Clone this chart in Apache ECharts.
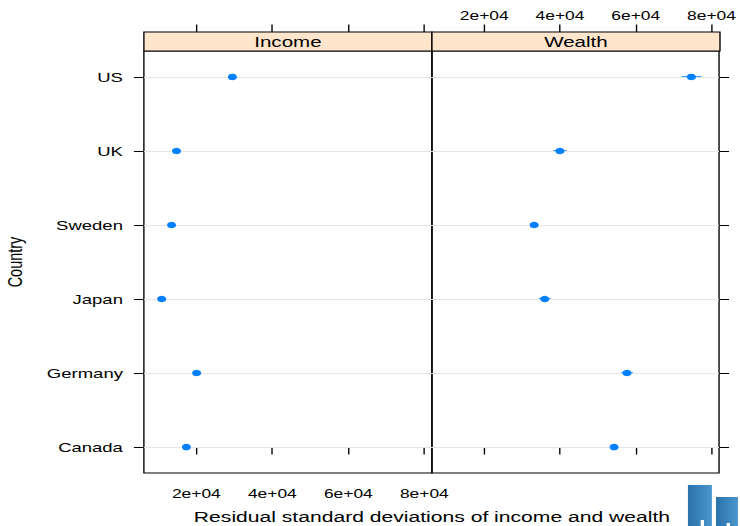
<!DOCTYPE html>
<html>
<head>
<meta charset="utf-8">
<script src="https://cdn.jsdelivr.net/npm/echarts@6/dist/echarts.min.js"></script>
<style>
html,body{margin:0;padding:0;background:#fff;overflow:hidden;width:740px;height:526px;}
#chart{width:540px;height:526px;transform:scaleX(1.37037);transform-origin:0 0;}
</style>
</head>
<body>
<div id="chart"></div>
<script>
// ---- data (bottom to top, as in the lattice dot plot) ----
const countries = ['Canada', 'Germany', 'Japan', 'Sweden', 'UK', 'US'];
const incomeSd  = [17400, 20100, 10900, 13500, 14800, 29500];
const incomeSe  = [500, 500, 400, 500, 500, 700];
const wealthSd  = [54300, 57700, 36000, 33200, 40000, 74700];
const wealthSe  = [900, 1600, 1600, 900, 1800, 2600];
const xTicks    = [20000, 40000, 60000, 80000];
const panels    = ['Income', 'Wealth'];
const xTitle    = 'Residual standard deviations of income and wealth';
const yTitle    = 'Country';

const FONT = '"Liberation Sans", Arial, Helvetica, sans-serif';
const X_MIN = 6200, X_MAX = 82000;
const Y_MIN = -0.351, Y_MAX = 5.351;
const G0 = {left: 105, top: 51, width: 210.2, height: 422};
const G1 = {left: 315.2, top: 51, width: 210.2, height: 422};
const fmt = v => (v / 10000) + 'e+04';

function xAxis(grid, pos, showLabel, offset, margin) {
  return {
    type: 'value', gridIndex: grid, position: pos, min: X_MIN, max: X_MAX, offset: offset,
    axisLine: {show: false},
    axisTick: {show: true, length: 7.5, customValues: xTicks, lineStyle: {color: '#000', width: 1}},
    axisLabel: {show: showLabel, customValues: xTicks, formatter: fmt, margin: margin,
      color: '#000', fontSize: 12.7, fontFamily: FONT},
    splitLine: {show: false}
  };
}
function yAxis(grid, pos, showLabel) {
  return {
    type: 'value', gridIndex: grid, position: pos, min: Y_MIN, max: Y_MAX,
    axisLine: {show: false},
    axisTick: {show: true, length: 7.3, customValues: countries.map((c, i) => i), lineStyle: {color: '#000', width: 1}},
    axisLabel: {show: showLabel, customValues: countries.map((c, i) => i),
      formatter: v => countries[Math.round(v)], margin: 15.3,
      color: '#000', fontSize: 13.5, fontFamily: FONT},
    splitLine: {show: false}
  };
}
function errSeries(xi, yi, vals, ses) {
  return {
    type: 'custom', xAxisIndex: xi, yAxisIndex: yi, z: 3, silent: true,
    data: vals.map((v, i) => [v, i, v - ses[i], v + ses[i]]),
    encode: {x: [0, 2, 3], y: 1},
    renderItem: (params, api) => {
      const y = api.value(1);
      const p1 = api.coord([api.value(2), y]);
      const p2 = api.coord([api.value(3), y]);
      return {type: 'line', shape: {x1: p1[0], y1: p1[1], x2: p2[0], y2: p2[1]},
        style: {stroke: '#0080ff', lineWidth: 1.5}};
    },
    markLine: {
      silent: true, symbol: ['none', 'none'], label: {show: false}, animation: false,
      lineStyle: {color: '#e6e6e6', type: 'solid', width: 1},
      data: countries.map((c, i) => ({yAxis: i}))
    }
  };
}
function dotSeries(xi, yi, vals) {
  return {
    type: 'scatter', xAxisIndex: xi, yAxisIndex: yi, z: 5, silent: true,
    symbol: 'circle', symbolSize: 6.6,
    itemStyle: {color: '#0080ff', opacity: 1},
    data: vals.map((v, i) => [v, i])
  };
}

const chart = echarts.init(document.getElementById('chart'), null, {renderer: 'svg'});
chart.setOption({
  animation: false,
  backgroundColor: '#fff',
  grid: [
    Object.assign({show: true, borderColor: '#000', borderWidth: 1, backgroundColor: 'transparent'}, G0),
    Object.assign({show: true, borderColor: '#000', borderWidth: 1, backgroundColor: 'transparent'}, G1)
  ],
  xAxis: [
    xAxis(0, 'bottom', true, 0, 13.5),
    xAxis(0, 'top', false, 19, 10.5),
    xAxis(1, 'bottom', false, 0, 13.5),
    xAxis(1, 'top', true, 19, 10.5)
  ],
  yAxis: [yAxis(0, 'left', true), yAxis(1, 'right', false)],
  series: [
    errSeries(0, 0, incomeSd, incomeSe),
    dotSeries(0, 0, incomeSd),
    errSeries(2, 1, wealthSd, wealthSe),
    dotSeries(2, 1, wealthSd)
  ],
  graphic: [
    {type: 'rect', shape: {x: G0.left, y: 32, width: G0.width, height: 19},
      style: {fill: '#ffe5cc', stroke: '#000', lineWidth: 1}, z: 10},
    {type: 'rect', shape: {x: G1.left, y: 32, width: G1.width, height: 19},
      style: {fill: '#ffe5cc', stroke: '#000', lineWidth: 1}, z: 10},
    {type: 'text', x: G0.left + G0.width / 2, y: 42, z: 11,
      style: {text: panels[0], fill: '#000', font: '15px ' + FONT, textAlign: 'center', textVerticalAlign: 'middle'}},
    {type: 'text', x: G1.left + G1.width / 2, y: 42, z: 11,
      style: {text: panels[1], fill: '#000', font: '15px ' + FONT, textAlign: 'center', textVerticalAlign: 'middle'}},
    {type: 'text', x: (G0.left + G1.left + G1.width) / 2, y: 516.5, z: 11,
      style: {text: xTitle, fill: '#000', font: '15.4px ' + FONT, textAlign: 'center', textVerticalAlign: 'middle'}},
    {type: 'text', x: 11, y: 262, rotation: Math.PI / 2, z: 11,
      style: {text: yTitle, fill: '#000', font: '14.5px ' + FONT, textAlign: 'center', textVerticalAlign: 'middle'}},
    // small logo in the corner
    {type: 'rect', shape: {x: 502.0, y: 485, width: 17.5, height: 41}, z: 1,
      style: {fill: new echarts.graphic.LinearGradient(0, 0, 1, 0, [{offset: 0, color: '#2a72aa'}, {offset: 1, color: '#4a96cc'}])}},
    {type: 'rect', shape: {x: 522.5, y: 497, width: 16, height: 29}, z: 1,
      style: {fill: new echarts.graphic.LinearGradient(0, 0, 1, 0, [{offset: 0, color: '#2a72aa'}, {offset: 1, color: '#4a96cc'}])}},
    {type: 'rect', shape: {x: 511.3, y: 520, width: 2.4, height: 6}, z: 2, style: {fill: '#ffffff'}},
    {type: 'rect', shape: {x: 530.3, y: 523, width: 2.4, height: 3}, z: 2, style: {fill: '#ffffff'}}
  ]
});
</script>
</body>
</html>
